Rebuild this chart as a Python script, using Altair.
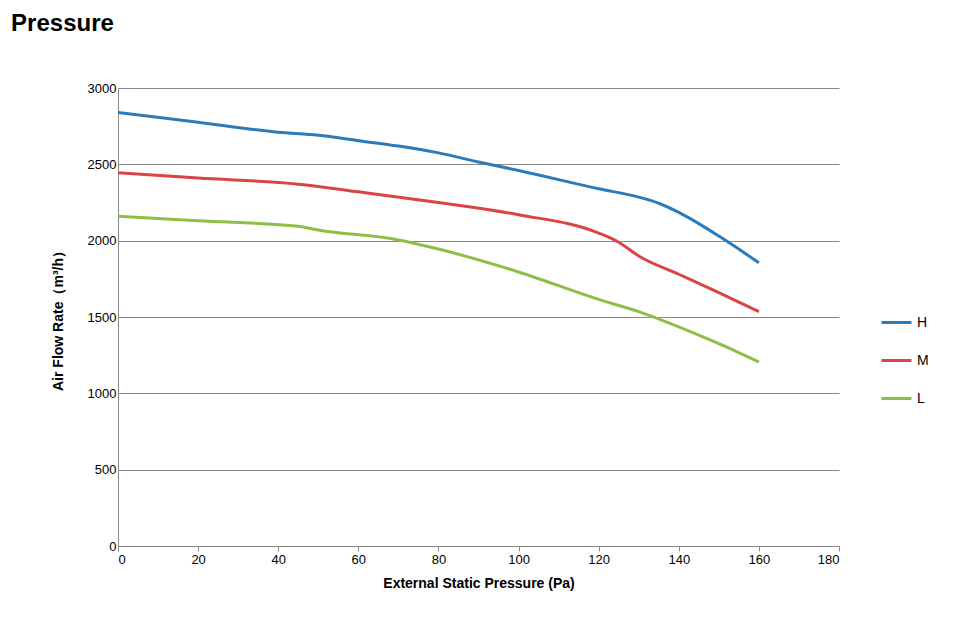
import altair as alt
import pandas as pd

x_h = [0, 20, 40, 50, 60, 70, 80, 90, 100, 120, 130, 135, 140, 150, 160]
y_h = [2840, 2775, 2710, 2690, 2655, 2620, 2575, 2515, 2460, 2340, 2285, 2245, 2185, 2030, 1855]
x_m = [0, 20, 45, 60, 80, 100, 120, 125, 130, 140, 150, 160]
y_m = [2445, 2410, 2370, 2320, 2250, 2170, 2050, 1990, 1900, 1780, 1660, 1535]
x_l = [0, 20, 45, 50, 70, 80, 100, 120, 130, 140, 150, 160]
y_l = [2160, 2130, 2095, 2070, 2005, 1945, 1795, 1615, 1535, 1435, 1325, 1205]

rows = []
for s, xs, ys in [("H", x_h, y_h), ("M", x_m, y_m), ("L", x_l, y_l)]:
    for a, b in zip(xs, ys):
        rows.append({"series": s, "x": a, "y": b})
df = pd.DataFrame(rows)

chart = alt.Chart(df).mark_line(strokeWidth=3, interpolate="monotone").encode(
    x=alt.X("x:Q", title="External Static Pressure (Pa)",
            scale=alt.Scale(domain=[0, 180], nice=False),
            axis=alt.Axis(values=list(range(0, 181, 20)), grid=False, tickSize=5, format="d",
                          titleFontWeight="bold", titleFontSize=14, titlePadding=10)),
    y=alt.Y("y:Q", title="Air Flow Rate（m³/h）",
            scale=alt.Scale(domain=[0, 3000], nice=False),
            axis=alt.Axis(values=list(range(0, 3001, 500)), ticks=False, gridColor="#888888",
                          format="d", domain=True, titleFontWeight="bold", titleFontSize=14,
                          titlePadding=22)),
    color=alt.Color("series:N", scale=alt.Scale(domain=["H", "M", "L"],
                    range=["#2b7bba", "#d94444", "#8dbf45"]),
                    legend=alt.Legend(title=None, orient="none", legendX=762, legendY=218,
                                      symbolType="stroke", symbolSize=900, symbolStrokeWidth=3,
                                      labelFontSize=14, rowPadding=14)),
).properties(
    width=721, height=458,
    autosize=alt.AutoSizeParams(type="none"),
    padding={"left": 110, "top": 80, "right": 120, "bottom": 80},
    title=alt.TitleParams("Static Pressure", subtitle="48K, 60K", anchor="start", dx=-112,
                          fontSize=24, subtitleFontSize=16, font="Liberation Sans",
                          subtitleFont="Liberation Sans", subtitleColor="black", offset=22,
                          subtitlePadding=8)
).configure_axis(
    labelFont="Liberation Sans", titleFont="Liberation Sans", labelFontSize=13,
    labelColor="black", titleColor="black", domainColor="#888888", tickColor="#888888"
).configure_legend(labelFont="Liberation Sans", labelColor="black"
).configure_view(stroke=None)

chart.save("out.html", embed_options={"renderer": "svg", "actions": False})
